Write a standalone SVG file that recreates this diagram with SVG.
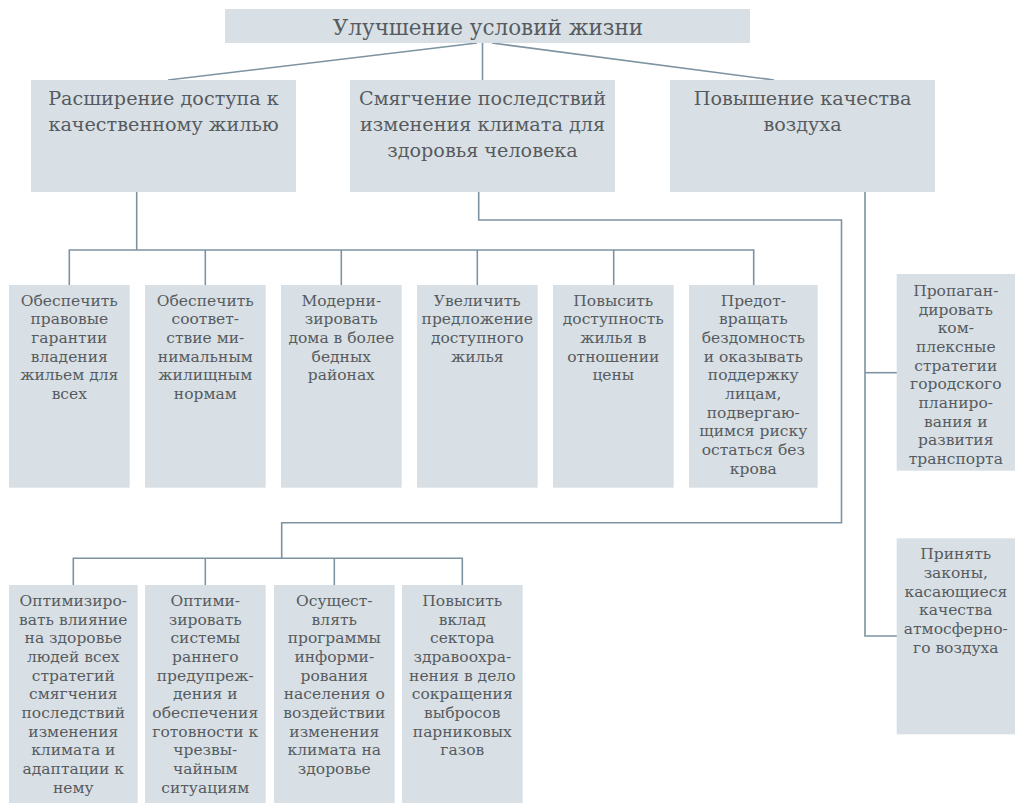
<svg xmlns="http://www.w3.org/2000/svg" width="1015" height="803" viewBox="0 0 1015 803">
<style>
.box{fill:#d8e0e5}
.t{font-family:"DejaVu Serif","Liberation Serif",serif;fill:#575b5f;text-anchor:middle}
.s{font-size:15.5px}
.m{font-size:19.2px}
.l{font-size:21.5px}
.c{fill:none;stroke:#7d93a1;stroke-width:1.6}
</style>
<rect width="1015" height="803" fill="#ffffff"/>
<g id="connectors" class="c">
<line x1="477" y1="43" x2="168" y2="80"/>
<line x1="482.5" y1="43" x2="482.5" y2="80"/>
<line x1="492" y1="43" x2="774" y2="80"/>
<polyline points="136.7,192 136.7,250"/>
<polyline points="69.3,285 69.3,250 753.7,250 753.7,285"/>
<line x1="205.3" y1="250" x2="205.3" y2="285"/>
<line x1="341.3" y1="250" x2="341.3" y2="285"/>
<line x1="477.3" y1="250" x2="477.3" y2="285"/>
<line x1="613.7" y1="250" x2="613.7" y2="285"/>
<polyline points="478.7,192 478.7,220 841.5,220 841.5,522.7 281.7,522.7 281.7,558.3"/>
<polyline points="73.3,585 73.3,558.3 462.3,558.3 462.3,585"/>
<line x1="205.3" y1="558.3" x2="205.3" y2="585"/>
<line x1="334.3" y1="558.3" x2="334.3" y2="585"/>
<polyline points="865,192 865,636 897,636"/>
<line x1="865" y1="372.7" x2="897" y2="372.7"/>
</g>
<g id="root">
<rect class="box" x="225" y="9" width="525" height="34"/>
<text class="t l" x="488" y="34.5">Улучшение условий жизни</text>
</g>
<g id="housing">
<rect class="box" x="31" y="80" width="265" height="112"/>
<text class="t m" x="163.5" y="104.5"><tspan x="163.5">Расширение доступа к</tspan><tspan x="163.5" dy="26">качественному жилью</tspan></text>
</g>
<g id="climate">
<rect class="box" x="350" y="80" width="265" height="112"/>
<text class="t m" x="482.5" y="104.5"><tspan x="482.5">Смягчение последствий</tspan><tspan x="482.5" dy="26">изменения климата для</tspan><tspan x="482.5" dy="26">здоровья человека</tspan></text>
</g>
<g id="air">
<rect class="box" x="670" y="80" width="265" height="112"/>
<text class="t m" x="802.5" y="104.5"><tspan x="802.5">Повышение качества</tspan><tspan x="802.5" dy="26">воздуха</tspan></text>
</g>
<g id="h1">
<rect class="box" x="9" y="285" width="120.7" height="202.7"/>
<text class="t s" y="305.7"><tspan x="69.3">Обеспечить</tspan><tspan x="69.3" dy="18.67">правовые</tspan><tspan x="69.3" dy="18.67">гарантии</tspan><tspan x="69.3" dy="18.67">владения</tspan><tspan x="69.3" dy="18.67">жильем для</tspan><tspan x="69.3" dy="18.67">всех</tspan></text>
</g>
<g id="h2">
<rect class="box" x="145" y="285" width="120.7" height="202.7"/>
<text class="t s" y="305.7"><tspan x="205.3">Обеспечить</tspan><tspan x="205.3" dy="18.67">соответ-</tspan><tspan x="205.3" dy="18.67">ствие ми-</tspan><tspan x="205.3" dy="18.67">нимальным</tspan><tspan x="205.3" dy="18.67">жилищным</tspan><tspan x="205.3" dy="18.67">нормам</tspan></text>
</g>
<g id="h3">
<rect class="box" x="281" y="285" width="120.7" height="202.7"/>
<text class="t s" y="305.7"><tspan x="341.3">Модерни-</tspan><tspan x="341.3" dy="18.67">зировать</tspan><tspan x="341.3" dy="18.67">дома в более</tspan><tspan x="341.3" dy="18.67">бедных</tspan><tspan x="341.3" dy="18.67">районах</tspan></text>
</g>
<g id="h4">
<rect class="box" x="417" y="285" width="120.7" height="202.7"/>
<text class="t s" y="305.7"><tspan x="477.3">Увеличить</tspan><tspan x="477.3" dy="18.67">предложение</tspan><tspan x="477.3" dy="18.67">доступного</tspan><tspan x="477.3" dy="18.67">жилья</tspan></text>
</g>
<g id="h5">
<rect class="box" x="553" y="285" width="120.7" height="202.7"/>
<text class="t s" y="305.7"><tspan x="613.3">Повысить</tspan><tspan x="613.3" dy="18.67">доступность</tspan><tspan x="613.3" dy="18.67">жилья в</tspan><tspan x="613.3" dy="18.67">отношении</tspan><tspan x="613.3" dy="18.67">цены</tspan></text>
</g>
<g id="h6">
<rect class="box" x="689" y="285" width="128.7" height="202.7"/>
<text class="t s" y="305.7"><tspan x="753.3">Предот-</tspan><tspan x="753.3" dy="18.67">вращать</tspan><tspan x="753.3" dy="18.67">бездомность</tspan><tspan x="753.3" dy="18.67">и оказывать</tspan><tspan x="753.3" dy="18.67">поддержку</tspan><tspan x="753.3" dy="18.67">лицам,</tspan><tspan x="753.3" dy="18.67">подвергаю-</tspan><tspan x="753.3" dy="18.67">щимся риску</tspan><tspan x="753.3" dy="18.67">остаться без</tspan><tspan x="753.3" dy="18.67">крова</tspan></text>
</g>
<g id="a1">
<rect class="box" x="896.7" y="274" width="118.3" height="196.7"/>
<text class="t s" y="296"><tspan x="955.8">Пропаган-</tspan><tspan x="955.8" dy="18.67">дировать</tspan><tspan x="955.8" dy="18.67">ком-</tspan><tspan x="955.8" dy="18.67">плексные</tspan><tspan x="955.8" dy="18.67">стратегии</tspan><tspan x="955.8" dy="18.67">городского</tspan><tspan x="955.8" dy="18.67">планиро-</tspan><tspan x="955.8" dy="18.67">вания и</tspan><tspan x="955.8" dy="18.67">развития</tspan><tspan x="955.8" dy="18.67">транспорта</tspan></text>
</g>
<g id="a2">
<rect class="box" x="896.7" y="538.3" width="118.3" height="196"/>
<text class="t s" y="559.3"><tspan x="955.8">Принять</tspan><tspan x="955.8" dy="18.67">законы,</tspan><tspan x="955.8" dy="18.67">касающиеся</tspan><tspan x="955.8" dy="18.67">качества</tspan><tspan x="955.8" dy="18.67">атмосферно-</tspan><tspan x="955.8" dy="18.67">го воздуха</tspan></text>
</g>
<g id="c1">
<rect class="box" x="9" y="585" width="128.7" height="218"/>
<text class="t s" y="606"><tspan x="73.3">Оптимизиро-</tspan><tspan x="73.3" dy="18.67">вать влияние</tspan><tspan x="73.3" dy="18.67">на здоровье</tspan><tspan x="73.3" dy="18.67">людей всех</tspan><tspan x="73.3" dy="18.67">стратегий</tspan><tspan x="73.3" dy="18.67">смягчения</tspan><tspan x="73.3" dy="18.67">последствий</tspan><tspan x="73.3" dy="18.67">изменения</tspan><tspan x="73.3" dy="18.67">климата и</tspan><tspan x="73.3" dy="18.67">адаптации к</tspan><tspan x="73.3" dy="18.67">нему</tspan></text>
</g>
<g id="c2">
<rect class="box" x="145" y="585" width="120.7" height="218"/>
<text class="t s" y="606"><tspan x="205.3">Оптими-</tspan><tspan x="205.3" dy="18.67">зировать</tspan><tspan x="205.3" dy="18.67">системы</tspan><tspan x="205.3" dy="18.67">раннего</tspan><tspan x="205.3" dy="18.67">предупреж-</tspan><tspan x="205.3" dy="18.67">дения и</tspan><tspan x="205.3" dy="18.67">обеспечения</tspan><tspan x="205.3" dy="18.67">готовности к</tspan><tspan x="205.3" dy="18.67">чрезвы-</tspan><tspan x="205.3" dy="18.67">чайным</tspan><tspan x="205.3" dy="18.67">ситуациям</tspan></text>
</g>
<g id="c3">
<rect class="box" x="274" y="585" width="120.7" height="218"/>
<text class="t s" y="606"><tspan x="334.3">Осущест-</tspan><tspan x="334.3" dy="18.67">влять</tspan><tspan x="334.3" dy="18.67">программы</tspan><tspan x="334.3" dy="18.67">информи-</tspan><tspan x="334.3" dy="18.67">рования</tspan><tspan x="334.3" dy="18.67">населения о</tspan><tspan x="334.3" dy="18.67">воздействии</tspan><tspan x="334.3" dy="18.67">изменения</tspan><tspan x="334.3" dy="18.67">климата на</tspan><tspan x="334.3" dy="18.67">здоровье</tspan></text>
</g>
<g id="c4">
<rect class="box" x="402" y="585" width="120.7" height="218"/>
<text class="t s" y="606"><tspan x="462.3">Повысить</tspan><tspan x="462.3" dy="18.67">вклад</tspan><tspan x="462.3" dy="18.67">сектора</tspan><tspan x="462.3" dy="18.67">здравоохра-</tspan><tspan x="462.3" dy="18.67">нения в дело</tspan><tspan x="462.3" dy="18.67">сокращения</tspan><tspan x="462.3" dy="18.67">выбросов</tspan><tspan x="462.3" dy="18.67">парниковых</tspan><tspan x="462.3" dy="18.67">газов</tspan></text>
</g>
</svg>
